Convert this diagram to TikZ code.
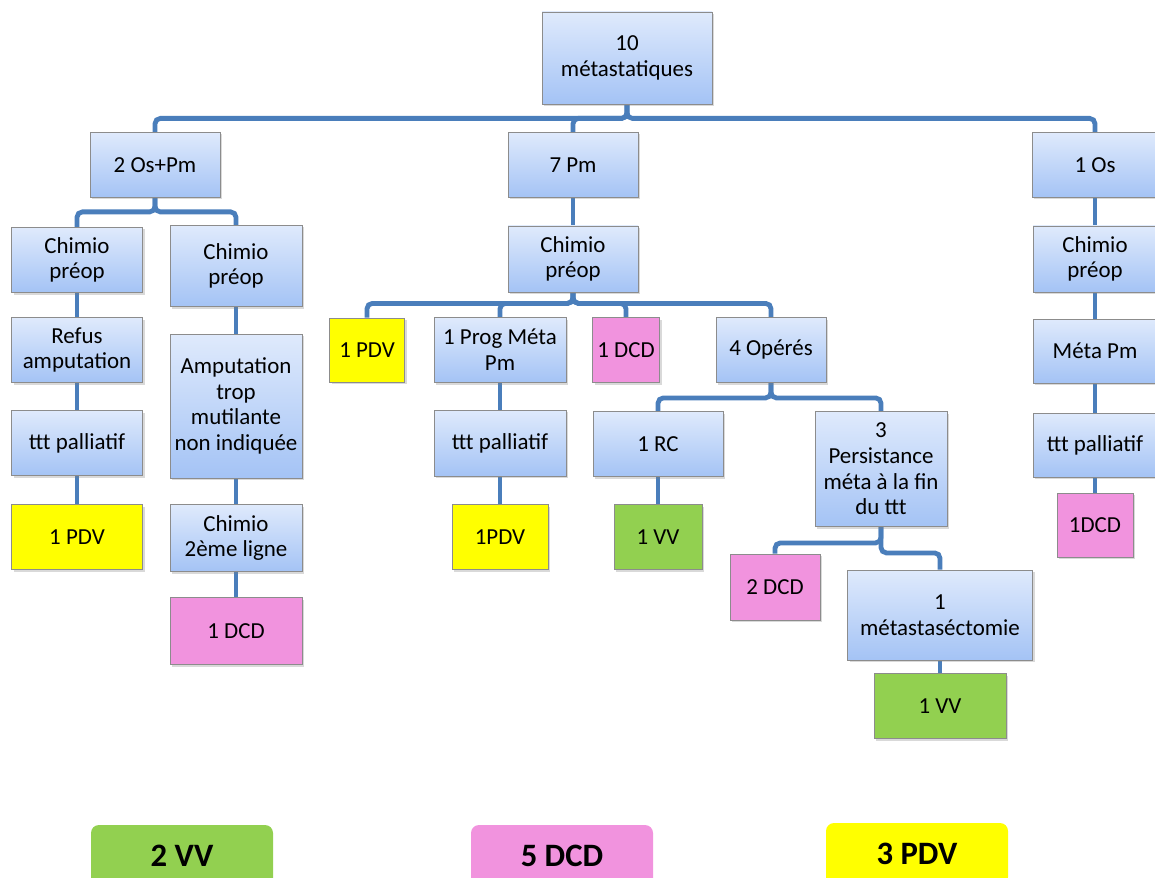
\documentclass[tikz,border=0pt]{standalone}
\usepackage{fontspec}
\setmainfont{Carlito}
\usetikzlibrary{shadows,backgrounds}

\definecolor{boxtop}{RGB}{223,234,252}
\definecolor{boxbot}{RGB}{164,195,245}
\definecolor{boxline}{RGB}{140,140,140}
\definecolor{linkblue}{RGB}{74,126,187}
\definecolor{vvgreen}{RGB}{146,208,80}
\definecolor{dcdpink}{RGB}{241,147,222}
\definecolor{pdvyellow}{RGB}{255,255,0}

\tikzset{every picture/.style={line width=0.75pt}}
\tikzset{
  base/.style={draw=boxline, line width=0.6pt, align=center, inner sep=1pt,
    font=\fontsize{17.2}{19.3}\selectfont,
    drop shadow={opacity=0.3, shadow xshift=1.5pt, shadow yshift=-1.5pt}},
  blk/.style={base, top color=boxtop, bottom color=boxbot},
  vv/.style={base, fill=vvgreen},
  dcd/.style={base, fill=dcdpink},
  pdv/.style={base, fill=pdvyellow},
  sz/.style 2 args={minimum width=#1*0.75pt, minimum height=#2*0.75pt},
  lnk/.style={draw=linkblue, line width=3.6pt, rounded corners=4pt},
  lgd/.style={rounded corners=6pt, minimum width=182*0.75pt, minimum height=62*0.75pt,
    font=\fontsize{24.5}{28}\selectfont\bfseries}
}

\begin{document}
\begin{tikzpicture}[x=0.75pt,y=0.75pt,yscale=-1,xscale=1]
    \path[use as bounding box, clip] (0,0) rectangle (1155,877);

    % Level 0
    \node[blk, sz={170}{92}] (root) at (627,58) {10\\métastatiques};
    % Level 1
    \node[blk, sz={130}{65}] (ospm) at (155,165) {2 Os+Pm};
    \node[blk, sz={130}{65}] (pm) at (573,165) {7 Pm};
    \node[blk, sz={126}{65}] (os) at (1095,165) {1 Os};

    % Left branch : 2 Os+Pm
    \node[blk, sz={131}{65}] (chimioA) at (77,260) {Chimio\\préop};
    \node[blk, sz={131}{65}] (refus) at (77,350) {Refus\\amputation};
    \node[blk, sz={131}{65}] (pallA) at (77,443) {ttt palliatif};
    \node[pdv, sz={131}{65}] (pdvA) at (77,537) {1 PDV};
    \node[blk, sz={132}{81}] (chimioB) at (236,266) {Chimio\\préop};
    \node[blk, sz={132}{144}] (amput) at (236,406) {Amputation\\trop\\mutilante\\non indiquée};
    \node[blk, sz={132}{67}] (ligne) at (236,538) {Chimio\\2ème ligne};
    \node[dcd, sz={132}{67}] (dcdB) at (236,631) {1 DCD};

    % Middle branch : 7 Pm
    \node[blk, sz={130}{66}] (chimioM) at (573,259) {Chimio\\préop};
    \node[pdv, sz={75}{64}] (pdvM) at (367,350) {1 PDV};
    \node[blk, sz={132}{65}] (prog) at (500,350) {1 Prog Méta\\Pm};
    \node[dcd, sz={67}{65}] (dcdM) at (626,350) {1 DCD};
    \node[blk, sz={110}{65}] (opere) at (771,350) {4 Opérés};
    \node[blk, sz={132}{66}] (pallM) at (500,443) {ttt palliatif};
    \node[pdv, sz={96}{65}] (pdvP) at (500,537) {1PDV};
    \node[blk, sz={130}{65}] (rc) at (658,444) {1 RC};
    \node[vv, sz={88}{65}] (vvR) at (658,537) {1 VV};
    \node[blk, sz={132}{115}] (persist) at (881,469) {3\\Persistance\\méta à la fin\\du ttt};
    \node[dcd, sz={90}{66}] (dcdP) at (775,587) {2 DCD};
    \node[blk, sz={185}{90}] (resect) at (940,615) {1\\métastaséctomie};
    \node[vv, sz={132}{65}] (vvS) at (940,706) {1 VV};

    % Right branch : 1 Os
    \node[blk, sz={124}{66}] (chimioR) at (1095,259) {Chimio\\préop};
    \node[blk, sz={124}{64}] (metaR) at (1095,351) {Méta Pm};
    \node[blk, sz={124}{64}] (pallR) at (1095,445) {ttt palliatif};
    \node[dcd, sz={76}{64}] (dcdR) at (1095,525) {1DCD};

    % Connectors
    \begin{scope}[on background layer]
    \draw[lnk] (root.south) -- ++(0,14) -| (ospm.north);
    \draw[lnk] (root.south) -- ++(0,14) -| (pm.north);
    \draw[lnk] (root.south) -- ++(0,14) -| (os.north);

    \draw[lnk] (ospm.south) -- ++(0,14) -| (chimioA.north);
    \draw[lnk] (ospm.south) -- ++(0,14) -| (chimioB.north);
    \draw[lnk] (chimioA) -- (refus) -- (pallA) -- (pdvA);
    \draw[lnk] (chimioB) -- (amput) -- (ligne) -- (dcdB);

    \draw[lnk] (pm) -- (chimioM);
    \foreach \kid in {pdvM,prog,dcdM,opere}
      \draw[lnk] (chimioM.south) -- ++(0,11) -| (\kid.north);
    \draw[lnk] (prog) -- (pallM) -- (pdvP);
    \draw[lnk] (opere.south) -- ++(0,15) -| (rc.north);
    \draw[lnk] (opere.south) -- ++(0,15) -| (persist.north);
    \draw[lnk] (rc) -- (vvR);
    \draw[lnk] (persist.south) -- ++(0,16) -| (dcdP.north);
    \draw[lnk] (persist.south) -- ++(0,26) -| (resect.north);
    \draw[lnk] (resect) -- (vvS);

    \draw[lnk] (os) -- (chimioR) -- (metaR) -- (pallR) -- (dcdR);
    \end{scope}

    % Totals
    \node[lgd, fill=vvgreen] (totVV) at (182,856) {2 VV};
    \node[lgd, fill=dcdpink] (totDCD) at (562,856) {5 DCD};
    \node[lgd, fill=pdvyellow] (totPDV) at (917,854) {3 PDV};
\end{tikzpicture}
\end{document}
